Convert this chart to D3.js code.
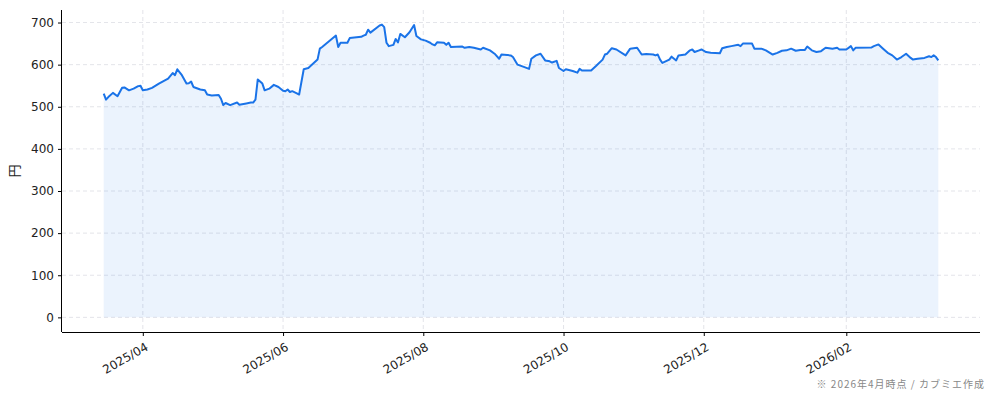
<!DOCTYPE html>
<html>
<head>
<meta charset="utf-8">
<script src="https://cdn.jsdelivr.net/npm/d3@7"></script>
<style>
  body { margin: 0; background: #fff; }
  svg { display: block; font-family: "Noto Sans CJK JP", "Noto Sans", sans-serif; }
  .grid line { stroke: #dcdde3; stroke-dasharray: 4,3; stroke-width: 0.8; }
  .axis text { fill: #222; font-size: 12px; font-family: "DejaVu Sans", sans-serif; }
  .axis path, .axis line { stroke: #000; stroke-width: 1; }
</style>
</head>
<body>
<svg id="chart" width="994" height="401"></svg>
<script>
// closing prices (yen)
var dates = [
  "2025-03-15","2025-03-16","2025-03-17","2025-03-19","2025-03-21","2025-03-23","2025-03-24","2025-03-26","2025-03-28","2025-03-30","2025-03-31",
  "2025-04-01","2025-04-03","2025-04-05","2025-04-08","2025-04-12","2025-04-14","2025-04-15","2025-04-16","2025-04-18","2025-04-20","2025-04-21","2025-04-22","2025-04-23","2025-04-26","2025-04-28","2025-04-29",
  "2025-05-01","2025-05-04","2025-05-05","2025-05-06","2025-05-07","2025-05-09","2025-05-12","2025-05-13","2025-05-16","2025-05-18","2025-05-19","2025-05-20","2025-05-21","2025-05-23","2025-05-24","2025-05-26","2025-05-28","2025-05-30",
  "2025-06-01","2025-06-02","2025-06-03","2025-06-04","2025-06-05","2025-06-07","2025-06-08","2025-06-10","2025-06-12","2025-06-16","2025-06-17","2025-06-18","2025-06-24","2025-06-25","2025-06-26","2025-06-29","2025-06-30",
  "2025-07-05","2025-07-06","2025-07-07","2025-07-08","2025-07-09","2025-07-13","2025-07-14","2025-07-15","2025-07-16","2025-07-17","2025-07-19","2025-07-20","2025-07-21","2025-07-22","2025-07-24","2025-07-26","2025-07-28","2025-07-29","2025-07-31",
  "2025-08-02","2025-08-04","2025-08-05","2025-08-06","2025-08-07","2025-08-10","2025-08-11","2025-08-12","2025-08-13","2025-08-18","2025-08-19","2025-08-21","2025-08-23","2025-08-26","2025-08-27","2025-08-30",
  "2025-09-01","2025-09-03","2025-09-04","2025-09-08","2025-09-09","2025-09-11","2025-09-14","2025-09-16","2025-09-17","2025-09-19","2025-09-21","2025-09-23","2025-09-25","2025-09-26","2025-09-28","2025-09-29",
  "2025-10-01","2025-10-02","2025-10-05","2025-10-07","2025-10-08","2025-10-09","2025-10-13","2025-10-15","2025-10-18","2025-10-19","2025-10-20","2025-10-22","2025-10-24","2025-10-28","2025-10-30",
  "2025-11-02","2025-11-04","2025-11-06","2025-11-09","2025-11-10","2025-11-11","2025-11-12","2025-11-13","2025-11-16","2025-11-17","2025-11-19","2025-11-20","2025-11-23","2025-11-25","2025-11-26","2025-11-27","2025-11-29","2025-11-30",
  "2025-12-02","2025-12-04","2025-12-08","2025-12-09","2025-12-11","2025-12-13","2025-12-16","2025-12-17","2025-12-18","2025-12-22","2025-12-23","2025-12-26","2025-12-28","2025-12-31",
  "2026-01-02","2026-01-04","2026-01-06","2026-01-08","2026-01-10","2026-01-12","2026-01-14","2026-01-15","2026-01-17","2026-01-19","2026-01-21","2026-01-23","2026-01-26","2026-01-28","2026-01-29",
  "2026-02-01","2026-02-03","2026-02-04","2026-02-05","2026-02-12","2026-02-13","2026-02-15","2026-02-17","2026-02-19","2026-02-21","2026-02-23","2026-02-25","2026-02-27",
  "2026-03-01","2026-03-02","2026-03-04","2026-03-07","2026-03-09","2026-03-10","2026-03-11","2026-03-12","2026-03-13"
];
var prices = [
  531,517,523,533,525,545,546,539,543,549,550,
  539,541,545,555,567,580,575,589,575,555,556,560,547,541,539,529,
  527,528,519,504,509,504,510,505,508,510,510,517,565,555,539,543,552,547,
  538,537,541,535,537,532,529,589,592,612,638,642,669,642,652,652,663,
  666,669,671,683,676,693,695,689,652,644,647,661,653,673,665,677,694,668,660,
  657,652,648,646,653,652,647,652,642,643,640,642,640,636,640,634,
  626,614,624,622,618,600,594,590,614,622,626,610,608,605,609,592,
  585,589,585,581,590,586,586,596,612,624,626,639,636,622,638,
  640,624,625,624,622,624,612,604,612,619,610,622,624,634,636,630,634,636,
  630,628,627,639,642,644,647,644,650,650,638,638,634,624,
  628,633,634,638,633,635,635,643,634,630,632,640,638,640,636,
  636,644,634,640,641,644,648,638,628,622,612,618,626,
  616,612,614,616,620,618,622,618,610
];
var yTicks = [0, 100, 200, 300, 400, 500, 600, 700];
var xTicks = ["2025-04-01","2025-06-01","2025-08-01","2025-10-01","2025-12-01","2026-02-01"];
var yLabel = "円";
var note = "※ 2026年4月時点 / カブミエ作成";

var parse = d3.utcParse("%Y-%m-%d");
var data = dates.map(function(d, i) { return {date: parse(d), value: prices[i]}; });

var margin = {top: 10, right: 14, bottom: 69, left: 62},
    width = 994 - margin.left - margin.right,
    height = 401 - margin.top - margin.bottom;

var svg = d3.select("#chart");
var g = svg.append("g").attr("transform", "translate(" + margin.left + "," + margin.top + ")");

// matplotlib-like 5% padding
var ext = d3.extent(data, function(d) { return d.date; });
var span = ext[1] - ext[0];
var x = d3.scaleUtc()
  .domain([new Date(+ext[0] - span * 0.05), new Date(+ext[1] + span * 0.05)])
  .range([0, width]);

var yMax = d3.max(prices);
var y = d3.scaleLinear()
  .domain([-yMax * 0.05, yMax * 1.05])
  .range([height, 0]);

var xTickDates = xTicks.map(parse);

// grid
g.append("g").attr("class", "grid")
  .selectAll("line").data(yTicks).enter().append("line")
    .attr("x1", 0).attr("x2", width)
    .attr("y1", function(d) { return y(d); }).attr("y2", function(d) { return y(d); });
g.append("g").attr("class", "grid")
  .selectAll("line").data(xTickDates).enter().append("line")
    .attr("y1", 0).attr("y2", height)
    .attr("x1", function(d) { return x(d); }).attr("x2", function(d) { return x(d); });

// area + line
var area = d3.area()
  .x(function(d) { return x(d.date); })
  .y0(y(0))
  .y1(function(d) { return y(d.value); });
g.append("path").datum(data)
  .attr("d", area)
  .attr("fill", "#1a73e8")
  .attr("fill-opacity", 0.085);

var line = d3.line()
  .x(function(d) { return x(d.date); })
  .y(function(d) { return y(d.value); });
g.append("path").datum(data)
  .attr("d", line)
  .attr("fill", "none")
  .attr("stroke", "#1a73e8")
  .attr("stroke-width", 2)
  .attr("stroke-linejoin", "round");

// axes
var xAxis = d3.axisBottom(x).tickValues(xTickDates).tickFormat(d3.utcFormat("%Y/%m")).tickSizeOuter(0).tickSize(4);
var yAxis = d3.axisLeft(y).tickValues(yTicks).tickSizeOuter(0).tickSize(4);

var gx = g.append("g").attr("class", "x axis")
  .attr("transform", "translate(0," + height + ")")
  .call(xAxis);
gx.select(".domain").attr("d", "M0,0.5H" + width);
gx.selectAll("text")
  .attr("text-anchor", "end")
  .attr("dy", "0.7em")
  .attr("transform", "translate(-2,4) rotate(-30)");

var gy = g.append("g").attr("class", "y axis").call(yAxis);
gy.select(".domain").attr("d", "M-0.5,0V" + height);
gy.selectAll("text").attr("x", -8);

svg.append("text")
  .attr("transform", "translate(19," + (margin.top + height / 2) + ") rotate(-90)")
  .attr("text-anchor", "middle")
  .attr("font-size", 13)
  .attr("fill", "#222")
  .text(yLabel);

svg.append("text")
  .attr("x", 985).attr("y", 388)
  .attr("text-anchor", "end")
  .attr("font-size", 10)
  .attr("letter-spacing", 1)
  .attr("fill", "#888")
  .text(note);
</script>
</body>
</html>
